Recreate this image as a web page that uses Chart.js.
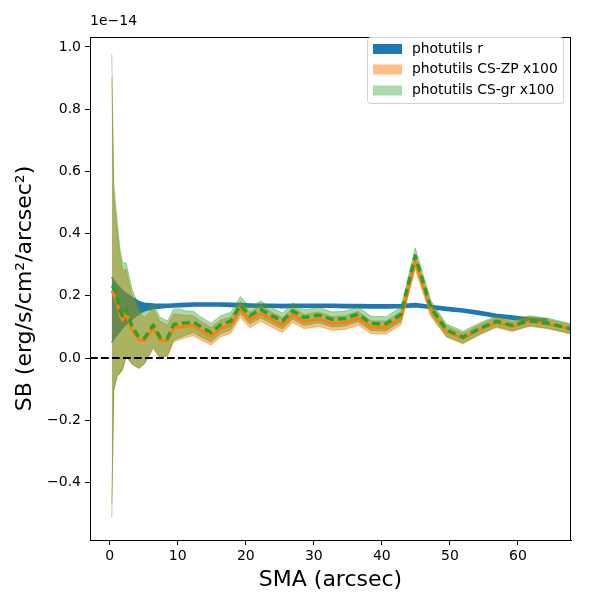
<!DOCTYPE html>
<html>
<head>
<meta charset="utf-8">
<script src="https://cdn.jsdelivr.net/npm/chart.js@4.4.0/dist/chart.umd.min.js"></script>
<style>
  html, body { margin: 0; padding: 0; background: #fff; }
  #wrap { width: 600px; height: 600px; }
</style>
</head>
<body>
<div id="wrap"><canvas id="sbChart" width="600" height="600"></canvas></div>
<script>
// SMA sampling (arcsec), shared by all profiles
const sma = [0.3, 0.6, 1.1, 1.5, 1.9, 2.4, 3.3, 4.3, 5.1, 6.4, 7.4, 8.5, 9.4, 10.4, 11.3, 12.3,
  13.4, 14.9, 16.3, 17.8, 19.2, 20.6, 22.2, 23.9, 25.4, 26.9, 28.6, 30.7, 32.7, 34.6, 36.5,
  38.4, 40.6, 42.8, 44.9, 47.2, 49.5, 51.9, 54.3, 56.8, 59.2, 61.7, 64.4, 67.8];

// photutils r (units of 1e-14)
const rMean = [0.155, 0.155, 0.155, 0.156, 0.157, 0.158, 0.160, 0.162, 0.164, 0.166, 0.167, 0.168,
  0.169, 0.170, 0.171, 0.172, 0.172, 0.172, 0.172, 0.171, 0.170, 0.169, 0.168, 0.168, 0.167, 0.168,
  0.168, 0.168, 0.168, 0.167, 0.167, 0.166, 0.166, 0.167, 0.170, 0.164, 0.158, 0.153, 0.145, 0.136,
  0.130, 0.124, 0.120, null];
const rErr = [0.105, 0.095, 0.08, 0.07, 0.06, 0.05, 0.035, 0.02, 0.012, 0.008, 0.006, 0.005,
  0.005, 0.005, 0.005, 0.005, 0.005, 0.005, 0.005, 0.005, 0.005, 0.005, 0.005, 0.005, 0.005, 0.005,
  0.005, 0.005, 0.005, 0.005, 0.005, 0.005, 0.005, 0.005, 0.005, 0.005, 0.005, 0.005, 0.005, 0.005,
  0.005, 0.005, 0.005, null];

// photutils CS-ZP x100
const zpMean = [0.216, 0.205, 0.176, 0.140, 0.122, 0.144, 0.090, 0.058, 0.056, 0.095, 0.058, 0.056,
  0.097, 0.100, 0.102, 0.104, 0.088, 0.070, 0.095, 0.106, 0.156, 0.122, 0.143, 0.122, 0.106, 0.138,
  0.117, 0.125, 0.111, 0.114, 0.128, 0.099, 0.098, 0.128, 0.310, 0.154, 0.085, 0.063, 0.090, 0.114,
  0.101, 0.117, 0.109, 0.092];
const zpErr = [0.685, 0.31, 0.23, 0.19, 0.16, 0.14, 0.11, 0.09, 0.075, 0.065, 0.06, 0.05, 0.045,
  0.04, 0.035, 0.032, 0.03, 0.028, 0.027, 0.026, 0.026, 0.025, 0.025, 0.024, 0.024, 0.024, 0.023,
  0.023, 0.022, 0.022, 0.022, 0.021, 0.021, 0.021, 0.024, 0.02, 0.018, 0.017, 0.017, 0.016, 0.016,
  0.015, 0.015, 0.015];

// photutils CS-gr x100
const grMean = [0.232, 0.228, 0.190, 0.152, 0.135, 0.156, 0.100, 0.066, 0.064, 0.106, 0.066, 0.064,
  0.108, 0.112, 0.113, 0.116, 0.100, 0.082, 0.107, 0.119, 0.170, 0.136, 0.156, 0.135, 0.119, 0.151,
  0.130, 0.138, 0.124, 0.127, 0.141, 0.111, 0.110, 0.140, 0.328, 0.163, 0.090, 0.067, 0.094, 0.118,
  0.105, 0.120, 0.112, 0.094];
const grErr = [0.745, 0.33, 0.25, 0.2, 0.17, 0.15, 0.12, 0.1, 0.082, 0.07, 0.065, 0.055, 0.05,
  0.045, 0.038, 0.034, 0.032, 0.03, 0.029, 0.028, 0.028, 0.027, 0.027, 0.026, 0.026, 0.026, 0.025,
  0.025, 0.024, 0.024, 0.024, 0.023, 0.023, 0.023, 0.026, 0.022, 0.02, 0.019, 0.018, 0.017, 0.017,
  0.016, 0.016, 0.016];

const xTicks = [0, 10, 20, 30, 40, 50, 60];
const yTicks = [-0.4, -0.2, 0.0, 0.2, 0.4, 0.6, 0.8, 1.0];
const seriesNames = ['photutils r', 'photutils CS-ZP x100', 'photutils CS-gr x100'];

const BLUE = '#1f77b4', ORANGE = '#ff7f0e', GREEN = '#2ca02c';
const ORANGE_A = 'rgba(255,127,14,0.5)', GREEN_A = 'rgba(44,160,44,0.4)';
const FONT = '"DejaVu Sans", "Liberation Sans", sans-serif';

function pts(vals, errs, sign) {
  return sma.map((x, i) => ({
    x: x,
    y: vals[i] == null ? null : vals[i] + sign * (errs ? errs[i] : 0)
  }));
}

function edge(data, color, width, fill, order) {
  return {
    data: data, borderColor: color, borderWidth: width, backgroundColor: color,
    fill: fill, order: order, pointRadius: 0, tension: 0
  };
}

const datasets = [
  edge(pts(rMean, rErr, 1), BLUE, 1.5, '+1', 10),
  edge(pts(rMean, rErr, -1), BLUE, 1.5, false, 10),
  edge(pts(zpMean, zpErr, 1), ORANGE_A, 1, '+1', 8),
  edge(pts(zpMean, zpErr, -1), ORANGE_A, 1, false, 8),
  edge(pts(grMean, grErr, 1), GREEN_A, 1, '+1', 6),
  edge(pts(grMean, grErr, -1), GREEN_A, 1, false, 6),
  { data: pts(zpMean, null, 0), borderColor: ORANGE, borderWidth: 3, pointRadius: 0,
    fill: false, order: 2 },
  { data: pts(grMean, null, 0), borderColor: GREEN, borderWidth: 3.5, borderDash: [8, 4.5],
    pointRadius: 0, fill: false, order: 1 }
];

// zero line, full frame, offset text and the in-axes legend
const extras = {
  id: 'extras',
  afterDatasetsDraw(chart) {
    const { ctx, chartArea: a, scales } = chart;
    const y0 = scales.y.getPixelForValue(0);
    ctx.save();
    ctx.beginPath();
    ctx.rect(a.left, a.top, a.right - a.left, a.bottom - a.top);
    ctx.clip();
    ctx.strokeStyle = '#000';
    ctx.lineWidth = 2;
    ctx.setLineDash([7.7, 3.3]);
    ctx.beginPath();
    ctx.moveTo(a.left, y0);
    ctx.lineTo(a.right, y0);
    ctx.stroke();
    ctx.restore();
  },
  afterDraw(chart) {
    const { ctx, chartArea: a } = chart;
    ctx.save();
    ctx.strokeStyle = '#000';
    ctx.lineWidth = 1;
    ctx.strokeRect(a.left + 0.5, a.top + 0.5, a.right - a.left - 1, a.bottom - a.top);

    ctx.fillStyle = '#000';
    ctx.font = '14px ' + FONT;
    ctx.textBaseline = 'alphabetic';
    ctx.textAlign = 'left';
    ctx.fillText('1e\u221214', a.left, 25);

    // legend box
    const bx = 367.5, by = 37.5, bw = 196, bh = 66, r = 3;
    ctx.beginPath();
    ctx.moveTo(bx + r, by);
    ctx.arcTo(bx + bw, by, bx + bw, by + bh, r);
    ctx.arcTo(bx + bw, by + bh, bx, by + bh, r);
    ctx.arcTo(bx, by + bh, bx, by, r);
    ctx.arcTo(bx, by, bx + bw, by, r);
    ctx.closePath();
    ctx.fillStyle = 'rgba(255,255,255,0.8)';
    ctx.fill();
    ctx.strokeStyle = '#d0d0d0';
    ctx.stroke();

    const patch = [BLUE, ORANGE_A, GREEN_A];
    const rows = [49, 69.5, 90.5];
    ctx.font = '13.9px ' + FONT;
    ctx.textBaseline = 'middle';
    seriesNames.forEach((name, i) => {
      ctx.fillStyle = patch[i];
      ctx.fillRect(373, rows[i] - 5, 29, 10);
      ctx.fillStyle = '#000';
      ctx.fillText(name, 412, rows[i]);
    });
    ctx.restore();
  }
};

const tickFont = { family: FONT, size: 14 };
const titleFont = { family: FONT, size: 22 };

const config = {
  type: 'line',
  data: { datasets: datasets },
  options: {
    responsive: false,
    animation: false,
    devicePixelRatio: 1,
    layout: { padding: { top: 37, right: 29, bottom: 0, left: 0 } },
    plugins: { legend: { display: false }, tooltip: { enabled: false } },
    elements: { line: { borderCapStyle: 'butt', borderJoinStyle: 'round' } },
    scales: {
      x: {
        type: 'linear', min: -2.9, max: 67.8,
        afterBuildTicks: s => { s.ticks = xTicks.map(v => ({ value: v })); },
        afterFit: s => { s.height = 60; },
        ticks: { color: '#000', font: tickFont, padding: 3, maxRotation: 0,
          callback: v => String(v) },
        grid: { drawOnChartArea: false, tickLength: 5, color: '#000' },
        border: { color: '#000' },
        title: { display: true, text: 'SMA (arcsec)', color: '#000', font: titleFont,
          padding: { top: 0, bottom: 7 } }
      },
      y: {
        type: 'linear', min: -0.585, max: 1.032,
        afterBuildTicks: s => { s.ticks = yTicks.map(v => ({ value: v })); },
        afterFit: s => { s.width = 90; },
        ticks: { color: '#000', font: tickFont, padding: 4,
          callback: v => v.toFixed(1).replace('-', '\u2212') },
        grid: { drawOnChartArea: false, tickLength: 5, color: '#000' },
        border: { color: '#000' },
        title: { display: true, text: 'SB (erg/s/cm\u00b2/arcsec\u00b2)', color: '#000',
          font: titleFont, padding: { top: 12, bottom: 0 } }
      }
    }
  },
  plugins: [extras]
};

const sbChart = new Chart(document.getElementById('sbChart'), config);
</script>
</body>
</html>
